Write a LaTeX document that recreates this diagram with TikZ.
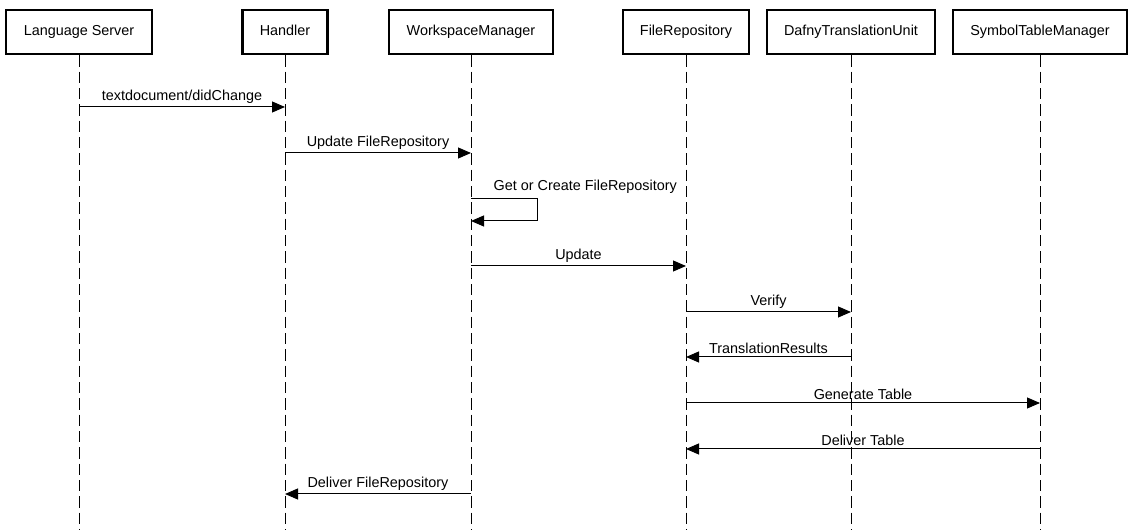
\documentclass[tikz,border=0pt]{standalone}
\usepackage{fontspec}
\setmainfont{Liberation Sans}
\usetikzlibrary{arrows.meta}
\usetikzlibrary{positioning}
\tikzstyle{actor_box} = [
    draw=black,
    line width=1.6pt,
    fill=white,
    align=center,
    inner xsep=13pt,
    minimum height=33.5pt,
    text height=8pt,
    text depth=2.3pt,
    font=\fontsize{10.8}{13}\selectfont
]
\tikzstyle{life_line} = [
    draw=black,
    line width=0.75pt,
    dash pattern=on 8.5pt off 3.75pt
]
\tikzstyle{msg} = [
    draw=black,
    line width=0.75pt,
    -{Triangle[length=9.75pt, width=8.25pt]}
]
\tikzstyle{msg_label} = [
    above,
    inner sep=2.5pt,
    font=\fontsize{10.8}{13}\selectfont
]

\begin{document}
\begin{tikzpicture}[x=0.75pt, y=-0.75pt]
\useasboundingbox (0,0) rectangle (1135,530);

% lifelines
\node [actor_box] (ls) at (79,32) {Language Server};
\node [actor_box] (handler) at (285,32) {Handler};
\node [actor_box] (wm) at (471,32) {WorkspaceManager};
\node [actor_box] (repo) at (686,32) {FileRepository};
\node [actor_box] (dtu) at (851,32) {DafnyTranslationUnit};
\node [actor_box] (stm) at (1040,32) {SymbolTableManager};

\foreach \who in {ls, handler, wm, repo, dtu, stm} {
    \coordinate (\who_end) at (\who |- 0,530);
    \draw [life_line] (\who.south) -- (\who_end);
}

% messages
\draw [msg] (ls |- 0,107) -- (handler |- 0,107)
    node [msg_label, midway] {textdocument/didChange};
\draw [msg] (handler |- 0,153) -- (wm |- 0,153)
    node [msg_label, midway] {Update FileRepository};
\draw [msg] (wm |- 0,199) -- ++(66,0) -- ++(0,22) -- (wm |- 0,221);
\node [msg_label, anchor=south west] at (490,197) {Get or Create FileRepository};
\draw [msg] (wm |- 0,266) -- (repo |- 0,266)
    node [msg_label, midway] {Update};
\draw [msg] (repo |- 0,312) -- (dtu |- 0,312)
    node [msg_label, midway] {Verify};
\draw [msg] (dtu |- 0,357) -- (repo |- 0,357)
    node [msg_label, midway] {TranslationResults};
\draw [msg] (repo |- 0,403) -- (stm |- 0,403)
    node [msg_label, midway] {Generate Table};
\draw [msg] (stm |- 0,449) -- (repo |- 0,449)
    node [msg_label, midway] {Deliver Table};
\draw [msg] (wm |- 0,494) -- (handler |- 0,494)
    node [msg_label, midway] {Deliver FileRepository};
\end{tikzpicture}
\end{document}
